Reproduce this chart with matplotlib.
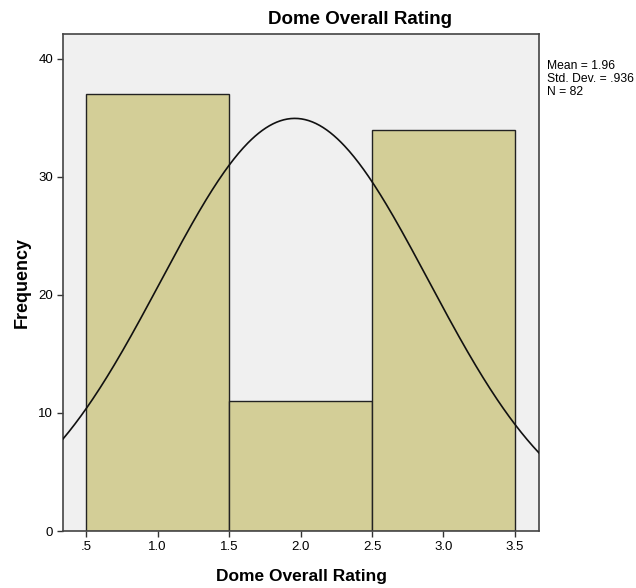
import numpy as np
import matplotlib
matplotlib.use("Agg")
import matplotlib.pyplot as plt

plt.rcParams['font.family'] = ['Liberation Sans', 'DejaVu Sans']

# histogram bins and counts
bin_left = [0.5, 1.5, 2.5]
counts = [37, 11, 34]
bin_width = 1.0

mean = 1.96
std = 0.936
n = 82

x_ticks = [0.5, 1.0, 1.5, 2.0, 2.5, 3.0, 3.5]
x_tick_labels = ['.5', '1.0', '1.5', '2.0', '2.5', '3.0', '3.5']
y_ticks = [0, 10, 20, 30, 40]

fig = plt.figure(figsize=(6.36, 5.88), dpi=100)
ax = fig.add_axes([0.0991, 0.0969, 0.7484, 0.8453])
ax.set_facecolor('#F0F0F0')

ax.bar(bin_left, counts, width=bin_width, align='edge',
       color='#D3CE97', edgecolor='#222222', linewidth=1.0, zorder=2)

xlo, xhi = 0.339, 3.668
xs = np.linspace(xlo, xhi, 400)
ys = n * bin_width / (std * np.sqrt(2 * np.pi)) * np.exp(-0.5 * ((xs - mean) / std) ** 2)
ax.plot(xs, ys, color='#111111', linewidth=1.2, zorder=3)

ax.set_xlim(xlo, xhi)
ax.set_ylim(0, 42.1)
ax.set_xticks(x_ticks)
ax.set_xticklabels(x_tick_labels)
ax.set_yticks(y_ticks)
ax.tick_params(direction='out', length=4, width=1, color='#333333',
               labelsize=9.5, pad=3)
for s in ax.spines.values():
    s.set_color('#444444')
    s.set_linewidth(1.2)

fig.text(301 / 636, 1 - 576 / 588, 'Dome Overall Rating', ha='center', va='center',
         fontsize=12.5, fontweight='bold')
fig.text(22 / 636, 1 - 282 / 588, 'Frequency', ha='center', va='center',
         rotation=90, fontsize=13, fontweight='bold')

fig.text(360 / 636, 1 - 19 / 588, 'Dome Overall Rating', ha='center', va='center',
         fontsize=13.5, fontweight='bold')
fig.text(547 / 636, 1 - 60 / 588, 'Mean = %.2f\nStd. Dev. = .936\nN = %d' % (mean, n),
         ha='left', va='top', fontsize=8.7, linespacing=1.1)

fig.savefig('out.png', dpi=100)
